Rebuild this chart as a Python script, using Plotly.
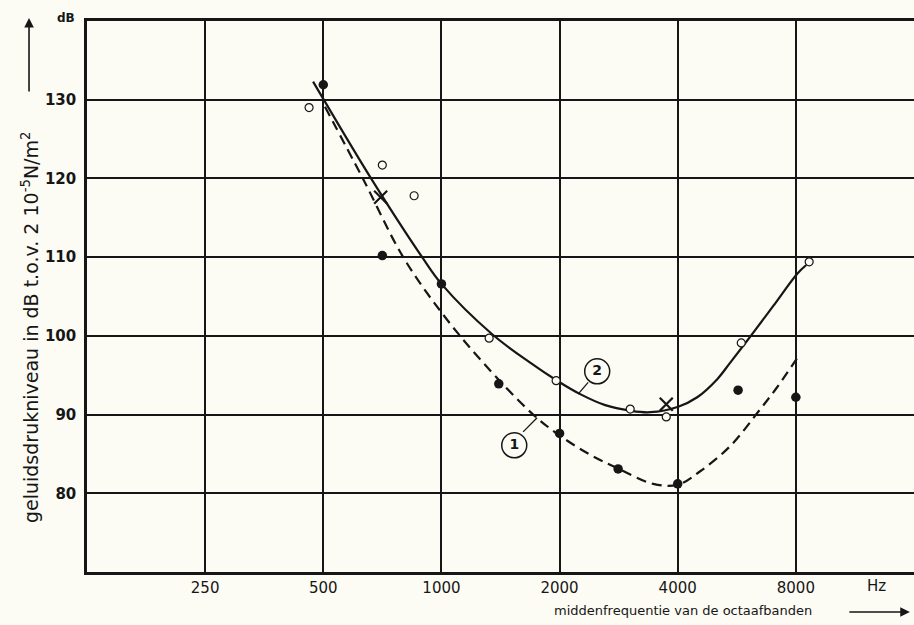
import plotly.graph_objects as go

# ---- data ----
tick_freqs = [250, 500, 1000, 2000, 4000, 8000]
tick_labels = ["250", "500", "1000", "2000", "4000", "8000"]
y_ticks = [80, 90, 100, 110, 120, 130]

# filled circles (series 1)
freq_filled = [500, 707, 1000, 1400, 2000, 2820, 4000, 5700, 8000]
db_filled = [131.9, 110.2, 106.6, 93.9, 87.6, 83.1, 81.2, 93.1, 92.2]

# open circles (series 2)
freq_open = [460, 707, 852, 1323, 1960, 3027, 3740, 5807, 8650]
db_open = [129.0, 121.7, 117.8, 99.7, 94.3, 90.7, 89.7, 99.1, 109.4]

# crosses
freq_cross = [700, 3740]
db_cross = [117.6, 91.3]

# curve 2 (solid)
freq_curve2 = [471, 500, 658, 893, 1000, 1347, 1683, 1972, 2257, 2614, 3027,
               3404, 4012, 4485, 5044, 5444, 6122, 7007, 8066, 8504]
db_curve2 = [132.3, 130.1, 120.2, 110.0, 106.6, 100.2, 96.6, 94.3, 92.6, 91.2, 90.5,
             90.3, 91.0, 92.2, 94.5, 96.6, 99.9, 103.8, 107.9, 109.0]

# curve 1 (dashed)
freq_curve1 = [505, 632, 799, 1010, 1277, 1713, 2007, 2393, 2805, 3464,
               4012, 4564, 5444, 6379, 7174, 8066]
db_curve1 = [129.1, 119.9, 110.0, 102.7, 96.6, 90.0, 87.3, 84.9, 83.2, 81.2,
             81.1, 82.8, 86.0, 90.2, 93.5, 97.2]

# circled curve labels
label_text = ["1", "2"]
label_freq = [1533, 2494]
label_db = [86.1, 95.5]
leader1_freq = [1615, 1753]
leader1_db = [87.8, 89.6]
leader2_freq = [2230, 2365]
leader2_db = [92.6, 94.1]

INK = "#161616"
BG = "#fcfbf4"
FONT = "DejaVu Sans"

fig = go.Figure()

fig.add_trace(go.Scatter(x=freq_curve2, y=db_curve2, mode="lines",
                         line=dict(color=INK, width=2.2, shape="spline", smoothing=1.0),
                         hoverinfo="skip"))
fig.add_trace(go.Scatter(x=freq_curve1, y=db_curve1, mode="lines",
                         line=dict(color=INK, width=2.2, shape="spline", smoothing=1.0, dash="10px,6px"),
                         hoverinfo="skip"))
fig.add_trace(go.Scatter(x=leader1_freq, y=leader1_db, mode="lines",
                         line=dict(color=INK, width=1.3), hoverinfo="skip"))
fig.add_trace(go.Scatter(x=leader2_freq, y=leader2_db, mode="lines",
                         line=dict(color=INK, width=1.3), hoverinfo="skip"))
fig.add_trace(go.Scatter(x=freq_filled, y=db_filled, mode="markers",
                         marker=dict(symbol="circle", size=9.5, color=INK)))
fig.add_trace(go.Scatter(x=freq_open, y=db_open, mode="markers",
                         marker=dict(symbol="circle", size=8, color=BG,
                                     line=dict(color=INK, width=1.2))))
fig.add_trace(go.Scatter(x=freq_cross, y=db_cross, mode="markers",
                         marker=dict(symbol="x-thin-open", size=13, color=INK,
                                     line=dict(color=INK, width=2.2))))
fig.add_trace(go.Scatter(x=label_freq, y=label_db, mode="markers+text",
                         text=label_text, textposition="middle center",
                         textfont=dict(family=FONT, size=14, color=INK, weight="bold"),
                         marker=dict(symbol="circle", size=25, color=BG,
                                     line=dict(color=INK, width=1.5))))

fig.update_layout(
    width=914, height=625,
    margin=dict(l=87, r=0, t=21, b=53),
    paper_bgcolor=BG, plot_bgcolor=BG,
    showlegend=False,
    font=dict(family=FONT, color=INK),
    xaxis=dict(type="log", range=[2.09691, 4.20412],
               tickvals=tick_freqs, ticktext=tick_labels,
               showgrid=True, gridcolor=INK, gridwidth=1.5,
               showline=True, linecolor=INK, linewidth=2.5, mirror=True,
               ticks="", zeroline=False, ticklabelstandoff=0,
               tickfont=dict(family=FONT, size=15, color=INK)),
    yaxis=dict(range=[70, 140], tickvals=y_ticks,
               showgrid=True, gridcolor=INK, gridwidth=1.5,
               showline=True, linecolor=INK, linewidth=2.5, mirror=False,
               ticks="", zeroline=False, ticklabelstandoff=5,
               tickfont=dict(family=FONT, size=15, color=INK, weight="bold")),
)

fig.add_annotation(xref="paper", yref="paper", x=-0.0689, y=0.4446,
                   xanchor="center", yanchor="middle",
                   text="geluidsdrukniveau in dB t.o.v. 2 10<sup>-5</sup>N/m<sup>2</sup>",
                   textangle=-90, showarrow=False,
                   font=dict(family=FONT, size=19, color=INK))
fig.add_annotation(xref="paper", yref="paper", x=-0.0701, y=1.0054,
                   ax=0, ay=75, text="", showarrow=True,
                   arrowhead=2, arrowsize=1.2, arrowwidth=1.6, arrowcolor=INK)
fig.add_annotation(xref="paper", yref="paper", x=-0.0254, y=1.0054,
                   xanchor="center", yanchor="middle",
                   text="dB", showarrow=False,
                   font=dict(family=FONT, size=12, color=INK, weight="bold"))
fig.add_annotation(xref="paper", yref="paper", x=0.955, y=-0.0254,
                   xanchor="center", yanchor="middle",
                   text="Hz", showarrow=False,
                   font=dict(family=FONT, size=15, color=INK))
fig.add_annotation(xref="paper", yref="paper", x=0.7207, y=-0.069,
                   xanchor="center", yanchor="middle",
                   text="middenfrequentie van de octaafbanden", showarrow=False,
                   font=dict(family=FONT, size=13, color=INK))
fig.add_annotation(xref="paper", yref="paper", x=0.995, y=-0.0726,
                   ax=-62, ay=0, text="", showarrow=True,
                   arrowhead=2, arrowsize=1.2, arrowwidth=1.6, arrowcolor=INK)

fig.write_html("out.html",
               config={"displayModeBar": False},
               post_script="document.body.style.margin='0px';document.body.style.overflow='hidden';")
